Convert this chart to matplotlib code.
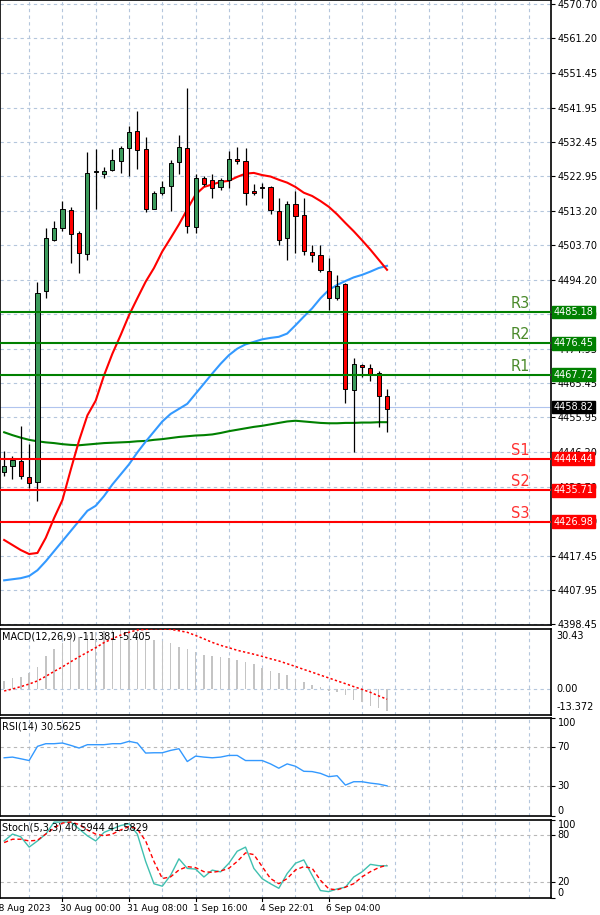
import numpy as np
import matplotlib.pyplot as plt
from matplotlib.transforms import blended_transform_factory

# ── Data (H1 candles) ────────────────────────────────────────────────────────
opens  = [4440.9, 4442.5, 4443.9, 4439.5, 4438.0, 4490.9, 4505.3, 4508.4, 4513.4, 4507.1,
          4501.3, 4524.1, 4523.6, 4524.5, 4527.1, 4530.7, 4535.3, 4530.4, 4513.7, 4518.1,
          4520.1, 4526.8, 4530.7, 4508.7, 4522.5, 4521.9, 4519.9, 4521.7, 4527.8, 4527.1,
          4518.8, 4520.0, 4519.9, 4513.2, 4505.6, 4515.3, 4512.0, 4501.8, 4501.1, 4496.6,
          4489.0, 4492.9, 4463.4, 4470.6, 4469.6, 4468.3, 4461.8]
highs  = [4446.7, 4445.3, 4453.6, 4448.5, 4493.6, 4508.5, 4510.4, 4516.0, 4514.3, 4507.6,
          4529.5, 4530.4, 4525.5, 4530.4, 4531.3, 4536.9, 4540.9, 4533.7, 4518.8, 4521.6,
          4527.3, 4534.4, 4547.4, 4523.4, 4523.0, 4523.4, 4522.5, 4529.9, 4530.9, 4530.7,
          4520.7, 4521.1, 4520.2, 4516.9, 4516.0, 4518.8, 4516.9, 4503.9, 4503.7, 4500.2,
          4495.5, 4493.2, 4472.4, 4470.8, 4470.8, 4468.7, 4463.9]
lows   = [4439.7, 4438.7, 4438.7, 4436.4, 4432.7, 4489.0, 4505.0, 4507.8, 4498.8, 4496.0,
          4499.7, 4513.7, 4522.5, 4524.2, 4523.9, 4523.0, 4524.8, 4513.0, 4513.7, 4517.8,
          4513.2, 4523.4, 4507.1, 4507.1, 4520.2, 4516.9, 4519.0, 4519.7, 4526.2, 4514.9,
          4517.8, 4516.9, 4512.3, 4503.7, 4499.7, 4501.6, 4501.1, 4499.2, 4496.3, 4485.7,
          4488.5, 4460.0, 4446.2, 4467.1, 4465.9, 4453.2, 4451.8]
closes = [4442.3, 4444.1, 4439.7, 4437.8, 4490.6, 4505.6, 4508.5, 4513.8, 4506.9, 4501.6,
          4523.9, 4524.4, 4524.4, 4527.4, 4530.7, 4535.1, 4530.1, 4513.9, 4518.1, 4519.9,
          4526.6, 4531.1, 4509.0, 4522.3, 4520.7, 4519.5, 4521.7, 4527.8, 4527.1, 4518.1,
          4518.1, 4519.7, 4513.4, 4505.3, 4515.1, 4511.8, 4502.0, 4500.9, 4496.8, 4489.2,
          4492.5, 4463.9, 4470.7, 4469.8, 4467.9, 4462.0, 4458.3]

ma_red   = [4421.9, 4420.5, 4419.1, 4418.0, 4418.3, 4422.5, 4428.0, 4433.0, 4441.4, 4449.5,
            4456.5, 4460.6, 4467.6, 4473.6, 4478.8, 4484.3, 4489.0, 4493.6, 4497.4, 4502.0,
            4505.7, 4509.5, 4513.7, 4517.8, 4519.9, 4520.6, 4521.3, 4521.6, 4522.7, 4523.6,
            4523.8, 4523.2, 4522.8, 4521.9, 4521.1, 4519.9, 4518.3, 4517.4, 4516.0, 4514.4,
            4512.3, 4509.9, 4507.6, 4505.1, 4502.5, 4499.7, 4496.9]
ma_blue  = [4410.7, 4411.0, 4411.3, 4411.9, 4413.5, 4416.0, 4418.8, 4421.6, 4424.4, 4427.2,
            4430.0, 4431.4, 4434.1, 4437.3, 4440.1, 4442.9, 4446.2, 4449.2, 4452.0, 4454.8,
            4456.9, 4458.3, 4459.7, 4462.5, 4465.3, 4468.1, 4470.8, 4473.2, 4475.0, 4476.2,
            4476.9, 4477.6, 4478.0, 4478.3, 4479.2, 4481.5, 4483.9, 4486.2, 4489.0, 4491.3,
            4492.7, 4493.8, 4494.8, 4495.5, 4496.4, 4497.4, 4498.0]
ma_green = [4451.8, 4451.0, 4450.3, 4449.7, 4449.3, 4449.0, 4448.8, 4448.5, 4448.3, 4448.2,
            4448.4, 4448.6, 4448.8, 4448.9, 4449.0, 4449.1, 4449.3, 4449.4, 4449.7, 4449.9,
            4450.2, 4450.5, 4450.7, 4450.9, 4451.0, 4451.2, 4451.6, 4452.1, 4452.5, 4452.9,
            4453.3, 4453.6, 4454.0, 4454.4, 4454.8, 4455.0, 4454.8, 4454.6, 4454.4, 4454.3,
            4454.3, 4454.4, 4454.4, 4454.5, 4454.5, 4454.6, 4454.6]

macd_hist = [3.9, 5.2, 5.8, 7.8, 11.0, 16.5, 20.3, 23.3, 25.2, 26.2, 27.1, 28.5, 29.1, 29.7,
             30.4, 30.4, 30.0, 25.2, 24.6, 24.2, 23.3, 21.3, 20.3, 18.4, 16.9, 16.5, 15.9,
             15.5, 14.5, 13.6, 12.6, 10.3, 8.7, 7.8, 6.8, 4.8, 3.3, 1.9, 1.0, -1.0, -1.9,
             -3.3, -5.8, -6.8, -8.7, -9.7, -11.4]
macd_sig = [-1.2, -0.2, 1.0, 2.3, 3.9, 6.2, 8.7, 11.0, 13.6, 16.1, 18.4, 20.7, 23.3, 25.2,
            27.1, 28.5, 29.7, 30.0, 30.4, 30.2, 30.0, 29.3, 28.5, 26.9, 25.2, 23.4, 21.9,
            20.7, 19.4, 18.4, 17.4, 16.3, 15.1, 14.0, 12.6, 11.2, 9.7, 8.3, 6.8, 5.4, 3.9,
            2.5, 1.0, -0.4, -1.9, -3.7, -5.4]
rsi = [59.1, 59.8, 58.1, 56.3, 70.7, 73.4, 73.4, 74.1, 71.7, 69.0, 72.4, 72.4, 72.4, 73.4,
       73.4, 75.8, 74.1, 63.9, 64.2, 64.2, 66.6, 68.3, 55.3, 60.8, 59.8, 59.1, 59.8, 61.5,
       61.5, 56.3, 56.3, 56.3, 52.9, 48.5, 52.9, 50.5, 45.4, 45.1, 43.3, 39.9, 40.9, 31.4,
       34.8, 34.8, 33.4, 32.4, 30.6]
stoch_k = [72.5, 81.3, 77.8, 64.6, 72.5, 81.3, 96.7, 96.7, 96.7, 87.9, 79.1, 72.5, 83.5,
           87.9, 92.3, 94.5, 81.3, 46.2, 17.6, 14.5, 28.5, 49.6, 37.3, 36.4, 26.3, 35.1,
           32.9, 43.9, 59.3, 64.6, 37.3, 24.1, 17.6, 11.8, 30.7, 43.9, 48.2, 28.5, 8.9, 7.5,
           11.0, 13.2, 26.3, 32.9, 42.5, 40.8, 40.6]
stoch_d = [70.4, 74.7, 74.7, 72.5, 73.4, 81.3, 89.2, 95.4, 96.7, 93.6, 86.6, 81.3, 79.1,
           81.3, 86.6, 91.0, 87.9, 72.5, 46.2, 24.3, 26.5, 35.3, 39.6, 38.3, 33.1, 32.2,
           33.9, 37.5, 46.2, 57.2, 55.0, 39.6, 24.3, 17.7, 24.3, 35.3, 39.6, 37.5, 22.1,
           11.1, 9.8, 13.3, 17.7, 26.5, 33.1, 38.3, 41.6]

price_ticks = [4570.70, 4561.20, 4551.45, 4541.95, 4532.45, 4522.95, 4513.20, 4503.70,
               4494.20, 4484.70, 4474.95, 4465.45, 4455.95, 4446.20, 4436.70, 4427.20,
               4417.45, 4407.95, 4398.45]
res_levels = [4485.18, 4476.45, 4467.72]
res_names = ["R3", "R2", "R1"]
sup_levels = [4444.44, 4435.71, 4426.98]
sup_names = ["S1", "S2", "S3"]
last_price = 4458.82
time_idx = [-1, 7, 15, 23, 31, 39]
time_labels = ["28 Aug 2023", "30 Aug 00:00", "31 Aug 08:00", "1 Sep 16:00",
               "4 Sep 22:01", "6 Sep 04:00"]

GRID = "#b4c6dc"
GREEN = "#008000"
FS = 7
W, H = 600, 915
x = np.arange(len(closes))
XLIM = (-0.5, 65.7)

fig = plt.figure(figsize=(W / 100, H / 100), dpi=100)


def panel(top, bottom):
    ax = fig.add_axes([0, 1 - bottom / H, 551 / W, (bottom - top) / H])
    ax.set_xlim(*XLIM)
    ax.set_xticks([])
    ax.yaxis.tick_right()
    ax.tick_params(axis="y", length=3, width=0.8, labelsize=FS, pad=2)
    for s in ax.spines.values():
        s.set_linewidth(1.2)
    for gx in range(3, 66, 4):
        ax.axvline(gx, color=GRID, ls=(0, (3, 3)), lw=0.8, zorder=0)
    return ax


def side_labels(ax, vals, tops, bottoms):
    """Right-hand labels; the extreme ones sit inside the panel like MT4 does."""
    ax.set_yticks(vals)
    ax.set_yticklabels([])
    t = blended_transform_factory(ax.transAxes, ax.transData)
    for v in vals:
        va = "top" if v in tops else ("bottom" if v in bottoms else "center")
        ax.text(1.012, v, str(v), transform=t, fontsize=FS, va=va, ha="left")


# ── Main price panel ─────────────────────────────────────────────────────────
ax = panel(0, 625)
ax.set_ylim(4398.3, 4571.8)
ax.set_yticks(price_ticks)
ax.set_yticklabels([f"{t:.2f}" for t in price_ticks])
for t in price_ticks:
    ax.axhline(t, color=GRID, ls=(0, (3, 3)), lw=0.8, zorder=0)

ax.plot(x, ma_green, color=GREEN, lw=1.5, zorder=2)
ax.plot(x, ma_blue, color="#3399ff", lw=1.5, zorder=2)
ax.plot(x, ma_red, color="red", lw=1.5, zorder=2)
ax.axhline(last_price, color="#b0c4ee", lw=0.8, zorder=1)

for i in x:
    ax.vlines(i, lows[i], highs[i], color="black", lw=0.9, zorder=3)
    up = closes[i] >= opens[i]
    lo, hi = min(opens[i], closes[i]), max(opens[i], closes[i])
    ax.bar(i, max(hi - lo, 0.25), bottom=lo, width=0.5,
           color="#3c9b5c" if up else "red", edgecolor="black", lw=0.7, zorder=4)

tr = blended_transform_factory(ax.transAxes, ax.transData)
for lvl, name in zip(res_levels, res_names):
    ax.axhline(lvl, color=GREEN, lw=1.5, zorder=5)
    ax.text(0.945, lvl + 0.3, name, color="#4a8a2a", fontsize=10.5, ha="center",
            va="bottom", transform=tr)
for lvl, name in zip(sup_levels, sup_names):
    ax.axhline(lvl, color="red", lw=1.5, zorder=5)
    ax.text(0.945, lvl + 0.3, name, color="#ff3030", fontsize=10.5, ha="center",
            va="bottom", transform=tr)

tags = [(v, GREEN) for v in res_levels] + [(v, "red") for v in sup_levels] + [(last_price, "black")]
for v, c in tags:
    ax.text(1.004, v, f"{v:.2f}", color="white", fontsize=FS, va="center", ha="left",
            transform=tr, clip_on=False, zorder=10,
            bbox={"boxstyle": "square,pad=0.15", "facecolor": c, "edgecolor": c})

# ── MACD ─────────────────────────────────────────────────────────────────────
ax = panel(628.5, 715)
ax.set_ylim(-13.372, 30.43)
ax.set_yticks([])
ax.axhline(0, color=GRID, ls=(0, (3, 3)), lw=0.8, zorder=0)
ax.bar(x, macd_hist, width=0.18, color="#c4c4c4", zorder=2)
ax.plot(x, macd_sig, color="red", ls=(0, (1.5, 1.5)), lw=1.1, zorder=3)
ax.text(1.01, 0.97, "30.43", transform=ax.transAxes, fontsize=FS, va="top")
ax.text(1.01, 0.0, "0.00", transform=blended_transform_factory(ax.transAxes, ax.transData),
        fontsize=FS, va="center")
ax.text(1.01, 0.03, "-13.372", transform=ax.transAxes, fontsize=FS, va="bottom")
ax.text(0.003, 0.96, "MACD(12,26,9) -11.381 -5.405", transform=ax.transAxes,
        fontsize=FS, va="top")

# ── RSI ──────────────────────────────────────────────────────────────────────
ax = panel(717.5, 816)
ax.set_ylim(0, 100)
side_labels(ax, [100, 70, 30, 0], tops=[100], bottoms=[0])
for t in (70, 30):
    ax.axhline(t, color="#b8b8b8", ls=(0, (3, 3)), lw=0.8, zorder=0)
ax.plot(x, rsi, color="#3399ff", lw=1.0)
ax.text(0.003, 0.96, "RSI(14) 30.5625", transform=ax.transAxes, fontsize=FS, va="top")

# ── Stochastic ───────────────────────────────────────────────────────────────
ax = panel(819.5, 897.5)
ax.set_ylim(0, 100)
side_labels(ax, [100, 80, 20, 0], tops=[100], bottoms=[0])
for t in (80, 20):
    ax.axhline(t, color="#b8b8b8", ls=(0, (3, 3)), lw=0.8, zorder=0)
ax.plot(x, stoch_k, color="#40c0b0", lw=1.0)
ax.plot(x, stoch_d, color="red", ls=(0, (3, 2)), lw=1.0)
ax.text(0.003, 0.96, "Stoch(5,3,3) 40.5944 41.5829", transform=ax.transAxes,
        fontsize=FS, va="top")

for i, lab in zip(time_idx, time_labels):
    ax.text(i - 0.3, -8, lab, fontsize=6.5, ha="left", va="top", clip_on=False)
    ax.plot([i, i], [0, -4], color="black", lw=0.8, clip_on=False)

fig.savefig("out.png", dpi=100)
